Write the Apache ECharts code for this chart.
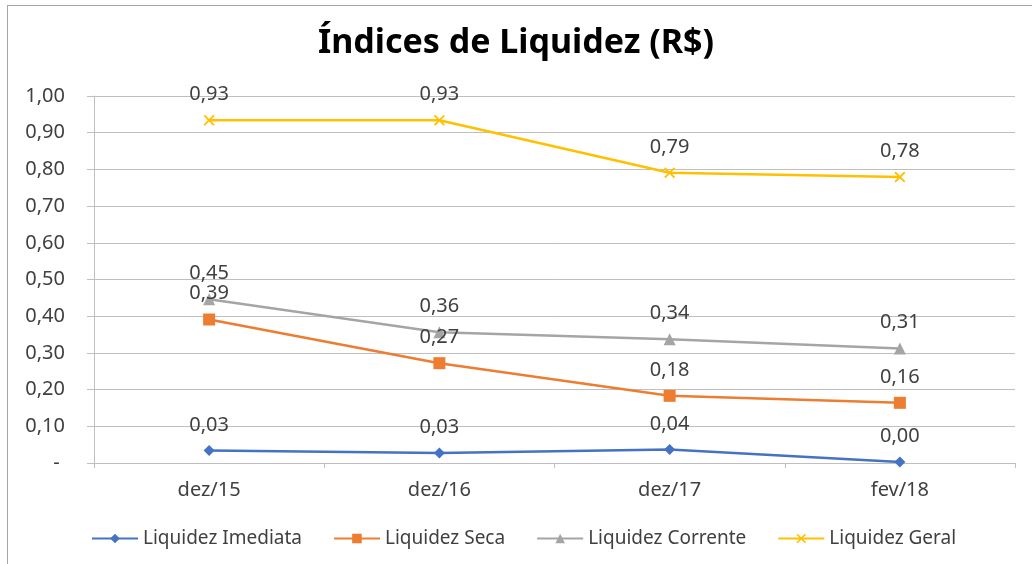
<!DOCTYPE html>
<html>
<head>
<meta charset="utf-8">
<script src="https://cdn.jsdelivr.net/npm/echarts@6/dist/echarts.min.js"></script>
<style>
  html, body { margin: 0; padding: 0; background: #fff; }
  #frame { position: absolute; left: 7px; top: 5px; width: 1040px; height: 580px; border-left: 1px solid #a6a6a6; border-top: 1px solid #a6a6a6; }
  #main { position: absolute; left: 0; top: 0; width: 1032px; height: 564px; }
</style>
</head>
<body>
<div id="frame"></div>
<div id="main"></div>
<script>
// dados do gráfico
const categorias = ['dez/15', 'dez/16', 'dez/17', 'fev/18']
const liquidezImediata = [0.034, 0.027, 0.037, 0.003]
const liquidezSeca = [0.391, 0.272, 0.183, 0.164]
const liquidezCorrente = [0.446, 0.356, 0.337, 0.312]
const liquidezGeral = [0.934, 0.934, 0.791, 0.779]
const yTicks = [0, 0.1, 0.2, 0.3, 0.4, 0.5, 0.6, 0.7, 0.8, 0.9, 1.0]

const fonte = '"Noto Sans", sans-serif'
const fmt = v => v.toFixed(2).replace('.', ',')
const xMark = 'path://M0,1.2L1.2,0L5,3.8L8.8,0L10,1.2L6.2,5L10,8.8L8.8,10L5,6.2L1.2,10L0,8.8L3.8,5Z'

function serie(nome, dados, cor, simbolo, tam) {
  return {
    name: nome,
    type: 'line',
    data: dados,
    symbol: simbolo,
    symbolSize: tam,
    lineStyle: { color: cor, width: 2.5 },
    itemStyle: { color: cor },
    label: {
      show: true,
      position: 'top',
      distance: 10,
      color: '#404040',
      fontSize: 20,
      fontFamily: fonte,
      formatter: p => fmt(p.value)
    }
  }
}

const myChart = echarts.init(document.getElementById('main'))
myChart.setOption({
  animation: false,
  title: {
    text: 'Índices de Liquidez (R$)',
    left: 'center',
    top: 21,
    textStyle: { fontFamily: fonte, fontWeight: 'bold', fontSize: 34, color: '#000' }
  },
  legend: {
    left: 86,
    top: 524,
    itemWidth: 46,
    itemHeight: 12,
    itemGap: 31,
    textStyle: { fontFamily: fonte, fontSize: 19, color: '#404040' },
    data: ['Liquidez Imediata', 'Liquidez Seca', 'Liquidez Corrente', 'Liquidez Geral']
  },
  grid: { left: 94, right: 17, top: 96, bottom: 101 },
  xAxis: {
    type: 'category',
    data: categorias,
    boundaryGap: true,
    axisLine: { lineStyle: { color: '#bfbfbf', width: 1 } },
    axisTick: { show: true, length: 5, lineStyle: { color: '#bfbfbf' } },
    axisLabel: { margin: 17, color: '#404040', fontSize: 20, fontFamily: fonte },
    splitLine: { show: false }
  },
  yAxis: {
    type: 'value',
    min: yTicks[0],
    max: yTicks[yTicks.length - 1],
    interval: 0.1,
    axisLine: { show: true, lineStyle: { color: '#bfbfbf', width: 1 } },
    axisTick: { show: true, length: 7, lineStyle: { color: '#bfbfbf' } },
    axisLabel: {
      margin: 29,
      color: '#404040',
      fontSize: 20,
      fontFamily: fonte,
      formatter: v => (Math.abs(v) < 1e-9 ? '- ' : fmt(v))
    },
    splitLine: { show: true, lineStyle: { color: '#bfbfbf', width: 1 } }
  },
  series: [
    serie('Liquidez Imediata', liquidezImediata, '#4472C4', 'diamond', 11),
    serie('Liquidez Seca', liquidezSeca, '#ED7D31', 'rect', 12),
    serie('Liquidez Corrente', liquidezCorrente, '#A5A5A5', 'triangle', 12),
    serie('Liquidez Geral', liquidezGeral, '#FFC000', xMark, 11)
  ]
})
</script>
</body>
</html>
